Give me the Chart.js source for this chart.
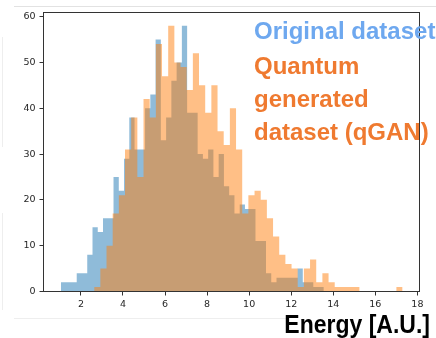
<!DOCTYPE html>
<html>
<head>
<meta charset="utf-8">
<script src="https://cdn.jsdelivr.net/npm/chart.js@4.4.1/dist/chart.umd.min.js"></script>
<style>
  body { margin: 0; background: #fff; }
  #wrap { position: relative; width: 436px; height: 338px; overflow: hidden; font-family: "Liberation Sans", Arial, sans-serif; }
  canvas { position: absolute; left: 0; top: 0; }
  .note { position: absolute; font-weight: bold; font-size: 24px; line-height: 33px; white-space: nowrap; }
  #orig { left: 254px; top: 14px; color: #6ea8ef; }
  #qgan { left: 254px; top: 49px; color: #ef7a30; }
  #xlabel { position: absolute; right: 6px; top: 314px; font-weight: bold; font-size: 23px; line-height: 23px; color: #000; white-space: nowrap; transform: scaleY(1.12); transform-origin: right bottom; }
  .edge { position: absolute; background: #e2e2e2; }
</style>
</head>
<body>
<div id="wrap">
  <div class="edge" style="left:14px; top:6px; width:422px; height:1px;"></div>
  <div class="edge" style="left:14px; top:318px; width:272px; height:1px; background:#eeeeee;"></div>
  <div class="edge" style="left:2px; top:37px; width:1px; height:110px; background:#eeeeee;"></div>
  <div class="edge" style="left:2px; top:213px; width:1px; height:97px; background:#eeeeee;"></div>
  <canvas id="myChart" width="436" height="338"></canvas>
  <div class="note" id="orig">Original dataset</div>
  <div class="note" id="qgan">Quantum<br>generated<br>dataset (qGAN)</div>
  <div id="xlabel">Energy [A.U.]</div>
</div>
<script>
// histogram bins (matplotlib style, 50 bins each)
const origStart = 1.05;
const origWidth = 0.25;
const origCounts = [2, 2, 2, 4, 4, 8, 14, 13, 16, 16,
    25, 22, 29, 38, 31, 31, 40, 43, 55, 33,
    38, 46, 50, 58, 39, 39, 30, 29, 31, 25,
    30, 23, 21, 17, 19, 18, 18, 11, 11, 4,
    2, 3, 3, 3, 3, 5, 2, 2, 1, 1];

const qganStart = 2.63;
const qganWidth = 0.2933;
const qganCounts = [1, 5, 10, 17, 21, 31, 38, 25, 42, 38,
    54, 47, 58, 50, 49, 44, 52, 45, 39, 45,
    35, 32, 40, 31, 17, 21, 22, 20, 16, 12,
    8, 6, 5, 1, 5, 7, 2, 4, 2, 1,
    1, 1, 1, 0, 0, 0, 0, 0, 0, 1];

const xTicks = [2, 4, 6, 8, 10, 12, 14, 16, 18];
const yTicks = [0, 10, 20, 30, 40, 50, 60];

// turn counts into step points at the left bin edges
function toSteps(start, width, counts) {
    const pts = counts.map((c, i) => ({ x: start + i * width, y: c }));
    pts.push({ x: start + counts.length * width, y: 0 });
    return pts;
}

// matplotlib-like frame round the plot
const framePlugin = {
    id: 'frame',
    afterDatasetsDraw(chart) {
        const a = chart.chartArea;
        const ctx = chart.ctx;
        ctx.save();
        ctx.strokeStyle = '#333';
        ctx.lineWidth = 1;
        ctx.strokeRect(a.left, a.top, a.right - a.left, a.bottom - a.top);
        ctx.restore();
    }
};

const ctx = document.getElementById('myChart').getContext('2d');
const myChart = new Chart(ctx, {
    type: 'line',
    data: {
        datasets: [{
            label: 'Original dataset',
            data: toSteps(origStart, origWidth, origCounts),
            stepped: true,
            fill: 'origin',
            backgroundColor: 'rgba(31, 119, 180, 0.5)',
            borderColor: 'transparent',
            borderWidth: 0,
            pointRadius: 0,
            order: 2
        }, {
            label: 'Quantum generated dataset (qGAN)',
            data: toSteps(qganStart, qganWidth, qganCounts),
            stepped: true,
            fill: 'origin',
            backgroundColor: 'rgba(255, 127, 14, 0.5)',
            borderColor: 'transparent',
            borderWidth: 0,
            pointRadius: 0,
            order: 1
        }]
    },
    options: {
        responsive: false,
        animation: false,
        devicePixelRatio: 1,
        layout: { padding: { left: 0, top: 12.5, right: 16.5, bottom: 0 } },
        plugins: {
            legend: { display: false },
            tooltip: { enabled: false }
        },
        scales: {
            x: {
                type: 'linear',
                min: 0.22,
                max: 18.1,
                afterBuildTicks: s => { s.ticks = xTicks.map(v => ({ value: v })); },
                afterFit: s => { s.height = 46.5; },
                grid: { display: true, drawOnChartArea: false, drawTicks: true, tickLength: 4, color: '#333' },
                border: { display: false },
                ticks: { color: '#262626', padding: 3, maxRotation: 0, font: { family: 'DejaVu Sans', size: 9.5 } }
            },
            y: {
                min: 0,
                max: 60.9,
                afterBuildTicks: s => { s.ticks = yTicks.map(v => ({ value: v })); },
                afterFit: s => { s.width = 43.5; },
                grid: { display: true, drawOnChartArea: false, drawTicks: true, tickLength: 4, color: '#333' },
                border: { display: false },
                ticks: { color: '#262626', padding: 4, font: { family: 'DejaVu Sans', size: 9.5 } }
            }
        }
    },
    plugins: [framePlugin]
});
</script>
</body>
</html>
